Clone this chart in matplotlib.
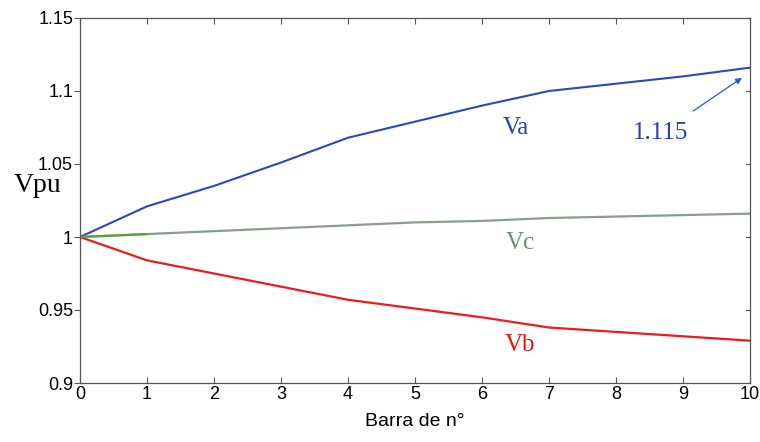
import matplotlib.pyplot as plt

barra = [0, 1, 2, 3, 4, 5, 6, 7, 8, 9, 10]
va = [1.000, 1.021, 1.035, 1.051, 1.068, 1.079, 1.090, 1.100, 1.105, 1.110, 1.116]
vb = [1.000, 0.984, 0.975, 0.966, 0.957, 0.951, 0.945, 0.938, 0.935, 0.932, 0.929]
vc = [1.000, 1.002, 1.004, 1.006, 1.008, 1.010, 1.011, 1.013, 1.014, 1.015, 1.016]
yticks = [0.9, 0.95, 1, 1.05, 1.1, 1.15]
ytick_labels = ['0.9', '0.95', '1', '1.05', '1.1', '1.15']

plt.rcParams['font.family'] = ['Liberation Sans', 'DejaVu Sans']

fig = plt.figure(figsize=(7.6, 4.42), dpi=100)
ax = fig.add_axes([80 / 760, 1 - 383 / 442, 670 / 760, 365 / 442])

ax.plot(barra, va, color='#2d45c8', lw=1.5)
ax.plot(barra, vb, color='#f01a1a', lw=1.6)
ax.plot(barra, vc, color='#8a9e8a', lw=1.6)
ax.plot(barra[:2], vc[:2], color='#4caa2a', lw=1.5)

serif = ['Liberation Serif', 'DejaVu Serif']
ax.text(6.5, 1.075, 'Va', color='#2b3fb5', fontsize=18, family=serif, ha='center', va='center')
ax.text(6.57, 0.996, 'Vc', color='#6f8f70', fontsize=18, family=serif, ha='center', va='center')
ax.text(6.57, 0.926, 'Vb', color='#ee1111', fontsize=18, family=serif, ha='center', va='center')
ax.annotate('1.115', xy=(9.88, 1.109), xytext=(8.66, 1.071), color='#2b3fb5',
            fontsize=18, family=serif, ha='center', va='center',
            arrowprops=dict(arrowstyle='-|>', color='#2b55c8', lw=0.9,
                            mutation_scale=9, shrinkA=11, shrinkB=0))

ax.set_xlim(0, 10)
ax.set_ylim(0.9, 1.15)
ax.set_xticks(barra)
ax.set_yticks(yticks)
ax.set_yticklabels(ytick_labels)
ax.tick_params(axis='both', labelsize=13, color='#555555', length=4)
ax.tick_params(axis='x', direction='in', top=True, pad=2)
ax.tick_params(axis='y', direction='out', right=False, pad=1)
for y in yticks:
    ax.plot([10, 9.94], [y, y], color='#555555', lw=0.8, clip_on=False)
for s in ax.spines.values():
    s.set_color('#555555')
    s.set_linewidth(0.9)

ax.set_xlabel('Barra de n°', fontsize=14, labelpad=7)
fig.text(38 / 760, 1 - 185 / 442, 'Vpu', fontsize=20, family=serif, ha='center', va='center')

fig.savefig('out.png', dpi=100)
